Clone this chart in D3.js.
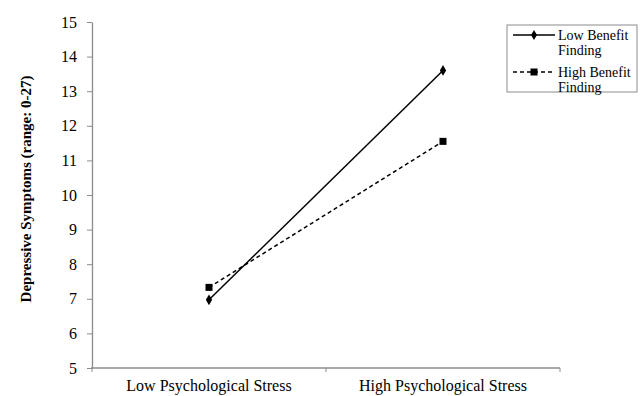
<!DOCTYPE html>
<html>
<head>
<meta charset="utf-8">
<script src="https://cdn.jsdelivr.net/npm/d3@7"></script>
<style>
  body { margin: 0; background: #fff; }
  svg text { font-family: "Liberation Serif", "DejaVu Serif", "Times New Roman", serif !important; }
</style>
</head>
<body>
<div id="chart"></div>
<script>
// data
const categories = ["Low Psychological Stress", "High Psychological Stress"];
const seriesNames = ["Low Benefit Finding", "High Benefit Finding"];
const lowBenefit = [6.97, 13.6];
const highBenefit = [7.33, 11.55];
const yTicks = [5, 6, 7, 8, 9, 10, 11, 12, 13, 14, 15];

const W = 640, H = 396;
const margin = { top: 22, right: 80, bottom: 28, left: 92 };
const serif = "'Liberation Serif', 'DejaVu Serif', serif";

const svg = d3.select("#chart").append("svg")
  .attr("width", W).attr("height", H)
  .attr("font-family", serif);

const x = d3.scaleBand().domain(categories)
  .range([margin.left, W - margin.right]);
const y = d3.scaleLinear().domain([5, 15])
  .range([H - margin.bottom, margin.top]);

const axisColor = "#8c8c8c";

// y axis
const yAxis = svg.append("g")
  .attr("transform", `translate(${margin.left},0)`)
  .call(d3.axisLeft(y).tickValues(yTicks).tickSize(5).tickPadding(10).tickSizeOuter(0));
yAxis.attr("font-family", serif);
yAxis.select(".domain").attr("stroke", axisColor).attr("stroke-width", 1.3);
yAxis.selectAll(".tick line").attr("stroke", axisColor);
yAxis.selectAll("text").style("font-size", "16px").attr("fill", "#000");

// x axis (ticks at category boundaries)
const xAxis = svg.append("g")
  .attr("transform", `translate(0,${y(5)})`);
xAxis.append("line")
  .attr("x1", margin.left - 1).attr("x2", W - margin.right)
  .attr("stroke", axisColor).attr("stroke-width", 1.3);
const bounds = [margin.left, x(categories[1]), W - margin.right];
xAxis.selectAll(".bt").data(bounds).enter().append("line")
  .attr("x1", d => d).attr("x2", d => d)
  .attr("y1", 0).attr("y2", 4)
  .attr("stroke", axisColor);
xAxis.selectAll(".cl").data(categories).enter().append("text")
  .attr("x", d => x(d) + x.bandwidth() / 2)
  .attr("y", 23)
  .attr("text-anchor", "middle")
  .style("font-size", "16px")
  .text(d => d);

// y label
svg.append("text")
  .attr("transform", "rotate(-90)")
  .attr("x", -(y(5) + y(15)) / 2 + 6)
  .attr("y", 31)
  .attr("text-anchor", "middle")
  .style("font-size", "15px")
  .style("font-weight", "bold")
  .text("Depressive Symptoms (range: 0-27)");

const cx = i => x(categories[i]) + x.bandwidth() / 2;
const line = d3.line().x((d, i) => cx(i)).y(d => y(d));

// low benefit
svg.append("path").datum(lowBenefit)
  .attr("d", line).attr("fill", "none")
  .attr("stroke", "#000").attr("stroke-width", 1.5);
svg.selectAll(".lb").data(lowBenefit).enter().append("path")
  .attr("transform", (d, i) => `translate(${cx(i)},${y(d)})`)
  .attr("d", d3.symbol().type(d3.symbolDiamond).size(34))
  .attr("fill", "#000");

// high benefit
svg.append("path").datum(highBenefit)
  .attr("d", line).attr("fill", "none")
  .attr("stroke", "#000").attr("stroke-width", 1.5)
  .attr("stroke-dasharray", "4,3");
svg.selectAll(".hb").data(highBenefit).enter().append("rect")
  .attr("x", (d, i) => cx(i) - 3.5).attr("y", d => y(d) - 3.5)
  .attr("width", 7).attr("height", 7)
  .attr("fill", "#000");

// legend
const lg = svg.append("g").attr("transform", "translate(507,25)");
lg.append("rect").attr("width", 130).attr("height", 67)
  .attr("fill", "#fff").attr("stroke", "#8c8c8c");
const items = [
  { name: seriesNames[0], dash: null, sym: "diamond", yy: 10 },
  { name: seriesNames[1], dash: "4,3", sym: "square", yy: 47 }
];
items.forEach(it => {
  lg.append("line").attr("x1", 6).attr("x2", 48)
    .attr("y1", it.yy).attr("y2", it.yy)
    .attr("stroke", "#000").attr("stroke-width", 1.5)
    .attr("stroke-dasharray", it.dash);
  if (it.sym === "diamond") {
    lg.append("path").attr("transform", `translate(27,${it.yy})`)
      .attr("d", d3.symbol().type(d3.symbolDiamond).size(30)).attr("fill", "#000");
  } else {
    lg.append("rect").attr("x", 23.5).attr("y", it.yy - 3.5)
      .attr("width", 7).attr("height", 7).attr("fill", "#000");
  }
  const words = it.name.split(" ");
  const t = lg.append("text").attr("x", 51).attr("y", it.yy + 5)
    .style("font-size", "14px");
  t.append("tspan").attr("x", 51).text(words.slice(0, 2).join(" "));
  t.append("tspan").attr("x", 51).attr("dy", 15).text(words[2]);
});
</script>
</body>
</html>
